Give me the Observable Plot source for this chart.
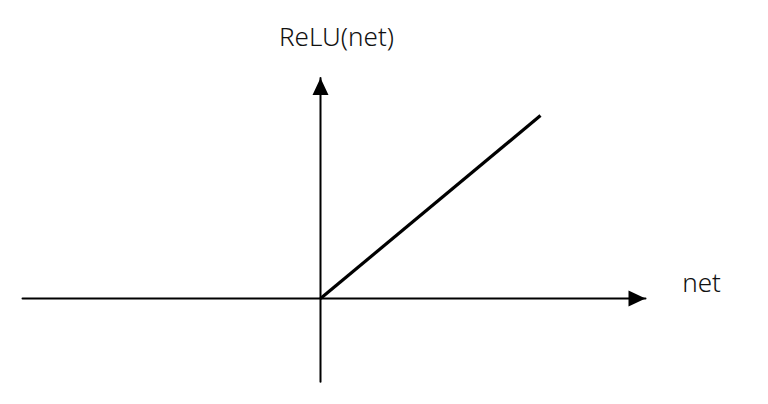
<!DOCTYPE html>
<html>
<head>
<meta charset="utf-8">
<script src="https://cdn.jsdelivr.net/npm/d3@7"></script>
<script src="https://cdn.jsdelivr.net/npm/@observablehq/plot@0.6"></script>
<style>
  html, body { margin: 0; padding: 0; background: #fff; overflow: hidden; }
  #chart svg { display: block; }
</style>
</head>
<body>
<div id="chart"></div>
<script>
// Axis extents (data units)
const netAxis = [-2.98, 3.25];        // horizontal "net" axis, left end → arrow tip
const outAxis = [-1.0, 2.65];         // vertical "ReLU(net)" axis, bottom end → arrow tip
// ReLU curve (positive branch)
const reluNet = [0, 2.2];
const reluOut = [0, 2.2];
// Labels
const xLabel = "net";
const yLabel = "ReLU(net)";

const hAxis = netAxis.map(x => ({x, y: 0}));
const vAxis = outAxis.map(y => ({x: 0, y}));
const relu = reluNet.map((x, i) => ({x, y: reluOut[i]}));

// filled arrowhead with tip at origin, pointing up
const arrowHead = {
  draw(ctx) {
    ctx.moveTo(0, 0);
    ctx.lineTo(-8, 17);
    ctx.lineTo(8, 17);
    ctx.closePath();
  }
};

const font = "'Noto Sans', 'DejaVu Sans', sans-serif";

const chart = Plot.plot({
  width: 768,
  height: 404,
  margin: 0,
  style: {background: "#fff", fontFamily: font},
  x: {domain: [-3.2, 4.48], axis: null},
  y: {domain: [-1.274, 3.583], axis: null},
  marks: [
    Plot.line(hAxis, {x: "x", y: "y", stroke: "#000", strokeWidth: 2}),
    Plot.line(vAxis, {x: "x", y: "y", stroke: "#000", strokeWidth: 2}),
    Plot.line(relu, {x: "x", y: "y", stroke: "#000", strokeWidth: 3.2, strokeLinecap: "butt"}),
    Plot.dot([hAxis[1]], {x: "x", y: "y", symbol: arrowHead, rotate: 90, fill: "#000", stroke: "none"}),
    Plot.dot([vAxis[1]], {x: "x", y: "y", symbol: arrowHead, rotate: 0, fill: "#000", stroke: "none"}),
    Plot.text([yLabel], {x: () => 0, y: () => outAxis[1], text: d => d, dx: 16, dy: -40,
      fontSize: 26, fontWeight: 300, fill: "#111", textAnchor: "middle", lineAnchor: "middle"}),
    Plot.text([xLabel], {x: () => netAxis[1], y: () => 0, text: d => d, dx: 56, dy: -15,
      fontSize: 26, fontWeight: 300, fill: "#111", textAnchor: "middle", lineAnchor: "middle"})
  ]
});
document.getElementById("chart").appendChild(chart);
</script>
</body>
</html>
